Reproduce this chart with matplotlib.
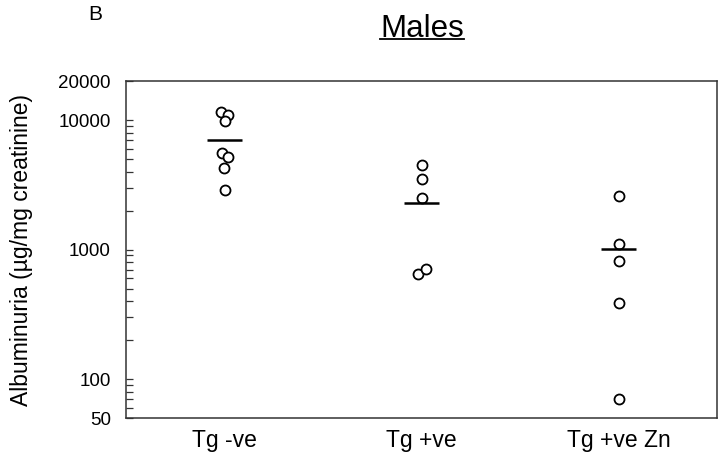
import matplotlib
matplotlib.use("Agg")
import matplotlib.pyplot as plt
from matplotlib.lines import Line2D
from matplotlib.ticker import LogLocator, NullFormatter

plt.rcParams["font.family"] = ["Liberation Sans", "DejaVu Sans"]

groups = ["Tg -ve", "Tg +ve", "Tg +ve Zn"]
tg_neg = [11500, 10900, 9800, 5550, 5200, 4250, 2900]
tg_pos = [4500, 3500, 2500, 650, 710]
tg_pos_zn = [2600, 1100, 815, 385, 70]
means = [7000, 2290, 1010]
# small horizontal offsets so overlapping circles show as in the original
jitter = [[-0.02, 0.02, 0.0, -0.015, 0.02, -0.005, 0.0],
          [0.0, 0.0, 0.0, -0.02, 0.02],
          [0.0, 0.0, 0.0, 0.0, 0.0]]
yticks = [50, 100, 1000, 10000, 20000]

fig = plt.figure(figsize=(7.2, 4.66), dpi=100)
ax = fig.add_axes([0.175, 0.103, 0.821, 0.723])

for i, vals in enumerate([tg_neg, tg_pos, tg_pos_zn]):
    xs = [i + 1 + j for j in jitter[i]]
    ax.plot(xs, vals, "o", mfc="white", mec="black", ms=7.2, mew=1.3, ls="none")
    ax.hlines(means[i], i + 1 - 0.09, i + 1 + 0.09, color="black", lw=1.8)

ax.set_yscale("log")
ax.set_ylim(50, 20000)
ax.set_xlim(0.5, 3.5)
ax.set_yticks(yticks)
ax.set_yticklabels([str(t) for t in yticks])
ax.yaxis.set_minor_locator(LogLocator(base=10, subs=range(2, 10)))
ax.yaxis.set_minor_formatter(NullFormatter())
ax.tick_params(axis="y", which="both", direction="in", length=5, width=0.9,
               labelsize=13.5, pad=11, colors="#333333", labelcolor="black")
ax.set_xticks([1, 2, 3])
ax.set_xticklabels(groups)
ax.tick_params(axis="x", length=0, labelsize=16.5, pad=8)
for s in ax.spines.values():
    s.set_linewidth(1.1)
    s.set_color("#333333")

ax.set_ylabel("Albuminuria (µg/mg creatinine)", fontsize=16.5)
ax.yaxis.set_label_coords(-0.157, 0.5)

fig.text(0.122, 0.99, "B", fontsize=15, va="top", ha="left")
title = fig.text(0.586, 0.97, "Males", fontsize=22.5, ha="center", va="top")

fig.canvas.draw()
bb = title.get_window_extent().transformed(fig.transFigure.inverted())
fig.add_artist(Line2D([bb.x0, bb.x1], [bb.y0 + 0.01, bb.y0 + 0.01],
                      transform=fig.transFigure, color="black", lw=1.3))

fig.savefig("out.png", dpi=100)
